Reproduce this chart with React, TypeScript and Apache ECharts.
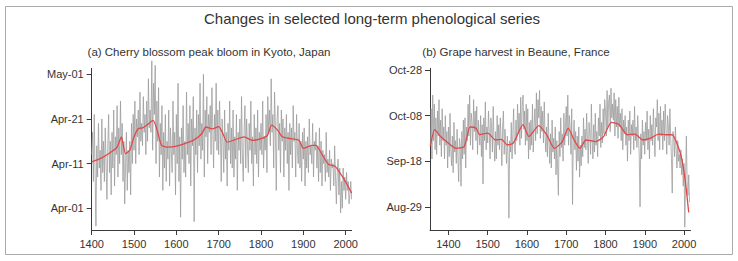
import React, { useEffect, useRef } from 'react';
import * as echarts from 'echarts';

// Panel (a) Kyoto cherry blossom – day of year, every 2nd year from 1400
const kyotoStart = 1400;
const kyotoStep = 2;
const kyotoDays = [
  103, 108, 97, 112, 99, 87, 105, 98, 110, 100,
  104, 95, 111, 99, 106, 97, 109, 101, 93, 105,
  112, 99, 106, 94, 108, 100, 113, 96, 107, 103,
  114, 98, 109, 101, 115, 103, 110, 97, 106, 92,
  101, 108, 95, 104, 99, 106, 94, 110, 101, 112,
  104, 115, 101, 111, 107, 113, 103, 117, 106, 110,
  105, 116, 108, 112, 103, 115, 106, 120, 109, 113,
  108, 124, 104, 119, 112, 123, 101, 115, 106, 118,
  98, 110, 103, 114, 95, 108, 100, 112, 97, 106,
  102, 113, 96, 109, 104, 99, 115, 103, 108, 94,
  112, 101, 119, 97, 107, 89, 109, 102, 114, 99,
  106, 98, 117, 103, 110, 101, 114, 96, 111, 105,
  116, 88, 109, 103, 113, 99, 112, 105, 119, 102,
  110, 104, 121, 98, 113, 107, 116, 101, 112, 108,
  114, 103, 118, 109, 100, 112, 106, 119, 104, 113,
  103, 115, 108, 97, 111, 106, 99, 113, 102, 108,
  96, 110, 104, 115, 101, 109, 100, 113, 98, 107,
  102, 112, 95, 108, 104, 111, 101, 116, 103, 97,
  108, 114, 100, 111, 105, 99, 110, 104, 115, 101,
  107, 96, 112, 103, 109, 101, 113, 98, 108, 104,
  110, 103, 115, 100, 107, 104, 112, 99, 116, 108,
  113, 105, 120, 108, 112, 100, 117, 109, 95, 111,
  114, 104, 110, 99, 113, 106, 111, 98, 109, 104,
  112, 101, 108, 95, 110, 103, 109, 100, 114, 106,
  108, 98, 112, 104, 101, 110, 100, 106, 97, 108,
  102, 109, 96, 106, 100, 107, 99, 111, 103, 105,
  101, 110, 98, 106, 104, 108, 100, 105, 97, 109,
  99, 106, 96, 104, 101, 103, 97, 108, 99, 102,
  98, 104, 95, 102, 100, 101, 96, 105, 98, 92,
  99, 102, 94, 100, 90, 97, 91, 100, 95, 98,
  93, 99, 95, 97, 92, 94, 97, 93
];
const kyotoSmoothYears = [1400, 1420, 1440, 1460, 1470, 1480, 1490, 1500, 1510, 1520, 1530, 1545, 1555, 1565, 1580, 1600, 1620, 1640, 1660, 1670, 1685, 1700, 1710, 1720, 1740, 1760, 1780, 1800, 1815, 1825, 1840, 1850, 1870, 1890, 1900, 1920, 1930, 1945, 1960, 1975, 1990, 2000, 2014];
const kyotoSmoothDays = [101.4, 102.1, 103.2, 104.7, 107.0, 103.2, 104.0, 107.0, 108.8, 109.0, 109.6, 110.7, 108.4, 105.1, 104.7, 104.9, 105.5, 106.2, 107.7, 109.2, 108.8, 109.3, 107.7, 105.8, 106.4, 107.0, 106.2, 106.6, 107.3, 109.6, 108.4, 107.0, 106.6, 106.2, 104.4, 105.1, 105.1, 102.9, 100.8, 100.4, 98.4, 96.9, 94.4];

// Panel (b) Beaune grape harvest – day of year, every 2nd year from 1354
const beauneStart = 1354;
const beauneStep = 2;
const beauneDays = [
  268, 284, 262,
  290, 270, 286, 266, 280, 264, 283, 272, 288, 268,
  279, 263, 284, 270, 276, 262, 281, 268, 274, 258,
  276, 263, 282, 266, 259, 272, 256, 278, 265, 270,
  260, 275, 263, 252, 271, 268, 250, 274, 262, 279,
  264, 280, 258, 276, 270, 286, 272, 290, 268, 282,
  278, 266, 288, 274, 283, 270, 285, 264, 279, 273,
  268, 281, 263, 277, 251, 280, 270, 287, 266, 276,
  269, 283, 274, 262, 280, 276, 265, 285, 270, 261,
  274, 262, 281, 268, 277, 266, 280, 271, 259, 276,
  283, 264, 275, 268, 260, 272, 263, 236, 270, 265,
  278, 262, 273, 284, 267, 264, 279, 270, 286, 273,
  282, 268, 289, 271, 285, 290, 275, 283, 268, 286,
  270, 284, 262, 278, 266, 279, 268, 286, 265, 276,
  284, 270, 291, 273, 288, 280, 292, 271, 285, 274,
  283, 269, 287, 272, 265, 276, 263, 282, 270, 260,
  273, 258, 279, 265, 271, 262, 276, 255, 270, 258,
  246, 274, 263, 280, 267, 273, 261, 282, 268, 276,
  285, 272, 290, 268, 281, 276, 264, 284, 242, 270,
  279, 266, 274, 257, 272, 261, 276, 254, 268, 259,
  272, 263, 280, 267, 275, 266, 282, 271, 260, 278,
  273, 264, 286, 270, 262, 277, 265, 282, 268, 274,
  263, 280, 272, 286, 267, 278, 269, 284, 273, 288,
  283, 272, 292, 276, 287, 290, 274, 293, 280, 286,
  279, 291, 272, 288, 276, 285, 271, 289, 276, 282,
  270, 284, 266, 279, 273, 281, 268, 276, 261, 279,
  270, 283, 264, 277, 272, 279, 266, 285, 270, 276,
  267, 281, 272, 263, 241, 273, 262, 279, 268, 274,
  264, 278, 270, 283, 266, 275, 262, 281, 270, 277,
  268, 284, 273, 263, 280, 276, 288, 270, 282, 266,
  285, 272, 279, 266, 283, 270, 286, 275, 264, 281,
  277, 268, 284, 272, 262, 247, 274, 271, 263, 276,
  266, 258, 270, 261, 264, 258, 266, 255, 262, 250,
  260, 232, 254, 272, 250, 246, 255, 243
];
const beauneSmoothYears = [1354, 1365, 1380, 1400, 1420, 1440, 1455, 1470, 1480, 1500, 1520, 1535, 1550, 1565, 1590, 1605, 1630, 1650, 1670, 1690, 1705, 1720, 1735, 1750, 1775, 1795, 1815, 1835, 1855, 1875, 1895, 1915, 1935, 1955, 1970, 1985, 1995, 2003, 2012];
const beauneSmoothDays = [267.7, 274.8, 271.8, 268.9, 266.6, 267.4, 276.0, 275.5, 272.6, 273.3, 270.3, 270.6, 268.1, 268.9, 277.0, 271.8, 276.6, 272.6, 266.6, 269.6, 275.5, 270.3, 266.6, 270.3, 269.6, 271.8, 278.0, 277.0, 272.6, 272.9, 270.3, 271.1, 272.9, 272.6, 272.6, 267.4, 261.4, 252.6, 238.5];

const yearTicks = [1400, 1500, 1600, 1700, 1800, 1900, 2000];
const kyotoTicks = [91, 101, 111, 121];
const kyotoTickLabels = ['Apr-01', 'Apr-11', 'Apr-21', 'May-01'];
const beauneTicks = [241, 261, 281, 301];
const beauneTickLabels = ['Aug-29', 'Sep-18', 'Oct-08', 'Oct-28'];

const FONT = '"Liberation Sans", Arial, sans-serif';
const AXIS_COLOR = '#3a3a3a';
const TEXT_COLOR = '#333';

function pairs(start: number, step: number, vals: number[]) {
  return vals.map((v, i) => [start + step * i, v]);
}
function zip(xs: number[], ys: number[]) {
  return xs.map((x, i) => [x, ys[i]]);
}

function xAxisCfg(gridIndex: number, min: number, max: number) {
  return {
    type: 'value', gridIndex, min, max,
    axisLine: { show: true, lineStyle: { color: AXIS_COLOR, width: 1 } },
    axisTick: { show: true, length: 5, lineStyle: { color: AXIS_COLOR }, customValues: yearTicks },
    axisLabel: { color: TEXT_COLOR, fontSize: 11, fontFamily: FONT, margin: 8, customValues: yearTicks, formatter: (v: number) => String(v) },
    splitLine: { show: false },
  };
}
function yAxisCfg(gridIndex: number, min: number, max: number, ticks: number[], labels: string[]) {
  return {
    type: 'value', gridIndex, min, max,
    axisLine: { show: true, lineStyle: { color: AXIS_COLOR, width: 1 } },
    axisTick: { show: true, length: 5, lineStyle: { color: AXIS_COLOR }, customValues: ticks },
    axisLabel: {
      color: TEXT_COLOR, fontSize: 11, fontFamily: FONT, margin: 8, customValues: ticks,
      formatter: (v: number) => { const i = ticks.indexOf(Math.round(v)); return i >= 0 ? labels[i] : ''; },
    },
    splitLine: { show: false },
  };
}

export default function App() {
  const ref = useRef<HTMLDivElement>(null);
  useEffect(() => {
    if (!ref.current) return;
    const chart = echarts.init(ref.current, null, { renderer: 'svg' });
    const grey = { color: '#9a9a9a', width: 0.9, opacity: 0.85 };
    const red = { color: '#e0484a', width: 1.3 };
    chart.setOption({
      animation: false,
      backgroundColor: '#fff',
      grid: [
        { left: 91.7, right: 386.4, top: 68.3, bottom: 31 },
        { left: 430, right: 47.5, top: 68.3, bottom: 31 },
      ],
      xAxis: [xAxisCfg(0, 1400, 2014), xAxisCfg(1, 1353, 2016.5)],
      yAxis: [
        yAxisCfg(0, 86.14, 122.34, kyotoTicks, kyotoTickLabels),
        yAxisCfg(1, 230.8, 301.75, beauneTicks, beauneTickLabels),
      ],
      graphic: [
        { type: 'rect', shape: { x: 5.5, y: 6.5, width: 727, height: 248 }, style: { fill: 'none', stroke: '#aaa', lineWidth: 1 }, silent: true },
        { type: 'text', x: 372, y: 18, style: { text: 'Changes in selected long-term phenological series', fill: TEXT_COLOR, font: `15px ${FONT}`, textAlign: 'center', textVerticalAlign: 'middle' } },
        { type: 'text', x: 209, y: 52, style: { text: '(a) Cherry blossom peak bloom in Kyoto, Japan', fill: TEXT_COLOR, font: `11.5px ${FONT}`, textAlign: 'center', textVerticalAlign: 'middle' } },
        { type: 'text', x: 516, y: 52, style: { text: '(b) Grape harvest in Beaune, France', fill: TEXT_COLOR, font: `11.5px ${FONT}`, textAlign: 'center', textVerticalAlign: 'middle' } },
      ],
      series: [
        { type: 'line', xAxisIndex: 0, yAxisIndex: 0, data: pairs(kyotoStart, kyotoStep, kyotoDays), showSymbol: false, lineStyle: grey, clip: false, z: 2 },
        { type: 'line', xAxisIndex: 0, yAxisIndex: 0, data: zip(kyotoSmoothYears, kyotoSmoothDays), showSymbol: false, lineStyle: red, smooth: 0.2, z: 3 },
        { type: 'line', xAxisIndex: 1, yAxisIndex: 1, data: pairs(beauneStart, beauneStep, beauneDays), showSymbol: false, lineStyle: grey, clip: false, z: 2 },
        { type: 'line', xAxisIndex: 1, yAxisIndex: 1, data: zip(beauneSmoothYears, beauneSmoothDays), showSymbol: false, lineStyle: red, smooth: 0.2, z: 3 },
      ],
    });
    return () => chart.dispose();
  }, []);
  return <div ref={ref} style={{ position: 'fixed', left: 0, top: 0, width: 738, height: 261 }} />;
}
